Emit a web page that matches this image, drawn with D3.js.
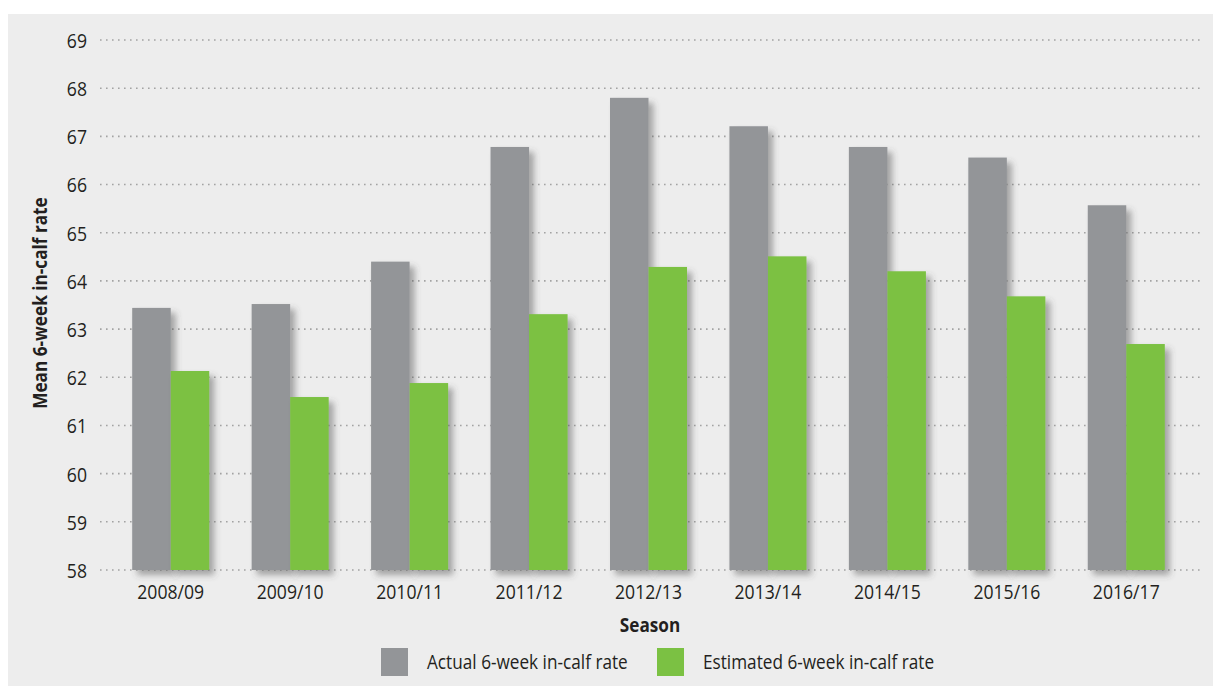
<!DOCTYPE html>
<html>
<head>
<meta charset="utf-8">
<script src="https://cdn.jsdelivr.net/npm/d3@7"></script>
<style>
  html, body { margin: 0; padding: 0; background: #ffffff; }
  svg { display: block; }
  text { font-family: 'Open Sans', 'Noto Sans', sans-serif; fill: #231f20; }
</style>
</head>
<body>
<svg id="chart" width="1213" height="686"></svg>
<script>
// Seasons along the x axis
const seasons = ["2008/09", "2009/10", "2010/11", "2011/12", "2012/13", "2013/14", "2014/15", "2015/16", "2016/17"];
// Mean 6-week in-calf rate per season (%)
const actualRate = [63.44, 63.52, 64.40, 66.78, 67.80, 67.21, 66.78, 66.56, 65.57];
const estimatedRate = [62.13, 61.59, 61.88, 63.31, 64.29, 64.51, 64.20, 63.68, 62.69];
// Y axis ticks
const yTicks = [58, 59, 60, 61, 62, 63, 64, 65, 66, 67, 68, 69];
const seriesNames = ["Actual 6-week in-calf rate", "Estimated 6-week in-calf rate"];
const seriesColors = ["#939598", "#7bc143"];

// condensed look for all lettering
const SQUEEZE = 0.86;

const svg = d3.select("#chart");

// panel background
svg.append("rect")
  .attr("x", 8).attr("y", 14)
  .attr("width", 1205).attr("height", 672)
  .attr("fill", "#ededed");

// soft drop shadow for the bars
const defs = svg.append("defs");
const shadow = defs.append("filter").attr("id", "barShadow")
  .attr("x", "-30%").attr("y", "-10%").attr("width", "170%").attr("height", "130%");
shadow.append("feDropShadow")
  .attr("dx", 5).attr("dy", 5).attr("stdDeviation", 3.2)
  .attr("flood-color", "#4a4a4a").attr("flood-opacity", 0.45);

const x = d3.scaleBand()
  .domain(seasons)
  .range([111, 1186])
  .paddingInner(0.355)
  .paddingOuter(0.1775);

const xSub = d3.scaleBand()
  .domain([0, 1])
  .range([0, x.bandwidth()]);

const y = d3.scaleLinear().domain([58, 69]).range([570, 40]);

// dotted gridlines
svg.append("g")
  .selectAll("line")
  .data(yTicks)
  .join("line")
  .attr("x1", 100).attr("x2", 1203)
  .attr("y1", d => y(d)).attr("y2", d => y(d))
  .attr("stroke", "#a3a3a3")
  .attr("stroke-width", 1.6)
  .attr("stroke-dasharray", "1.6,4.4");

// y axis labels
const yAxis = d3.axisLeft(y).tickValues(yTicks).tickSize(0).tickPadding(0).tickFormat(d3.format("d"));
const yg = svg.append("g").attr("transform", "translate(87,0)").call(yAxis);
yg.select(".domain").remove();
yg.selectAll("text")
  .attr("font-size", 20.5)
  .attr("font-family", null)
  .attr("fill", "#231f20")
  .attr("x", 0)
  .attr("dy", "0.36em")
  .attr("transform", `scale(${SQUEEZE},1)`);

// x axis labels
const xAxis = d3.axisBottom(x).tickSize(0).tickPadding(0);
const xg = svg.append("g").attr("transform", "translate(0,599)").call(xAxis);
xg.select(".domain").remove();
xg.selectAll("text")
  .attr("font-size", 20.5)
  .attr("font-family", null)
  .attr("fill", "#231f20")
  .attr("y", 0)
  .attr("dy", 0)
  .attr("transform", `scale(${SQUEEZE},1)`);

// bars
const groups = svg.append("g")
  .selectAll("g")
  .data(seasons)
  .join("g")
  .attr("transform", d => `translate(${x(d)},0)`);

groups.selectAll("rect")
  .data((d, i) => [actualRate[i], estimatedRate[i]])
  .join("rect")
  .attr("x", (d, j) => xSub(j))
  .attr("width", xSub.bandwidth())
  .attr("y", d => y(d))
  .attr("height", d => y(58) - y(d))
  .attr("fill", (d, j) => seriesColors[j])
  .attr("filter", "url(#barShadow)");

// axis titles
svg.append("text")
  .attr("transform", `translate(47,303) rotate(-90) scale(${SQUEEZE},1)`)
  .attr("text-anchor", "middle")
  .attr("font-size", 20)
  .attr("font-weight", "bold")
  .text("Mean 6-week in-calf rate");

svg.append("text")
  .attr("transform", `translate(650,632) scale(${SQUEEZE},1)`)
  .attr("text-anchor", "middle")
  .attr("font-size", 20)
  .attr("font-weight", "bold")
  .text("Season");

// legend
const legendX = [381, 657];
const legend = svg.append("g")
  .selectAll("g")
  .data(seriesNames)
  .join("g")
  .attr("transform", (d, i) => `translate(${legendX[i]},648)`);
legend.append("rect")
  .attr("width", 27).attr("height", 28)
  .attr("fill", (d, i) => seriesColors[i]);
legend.append("text")
  .attr("transform", `translate(46,21) scale(${SQUEEZE},1)`)
  .attr("font-size", 20)
  .text(d => d);
</script>
</body>
</html>
